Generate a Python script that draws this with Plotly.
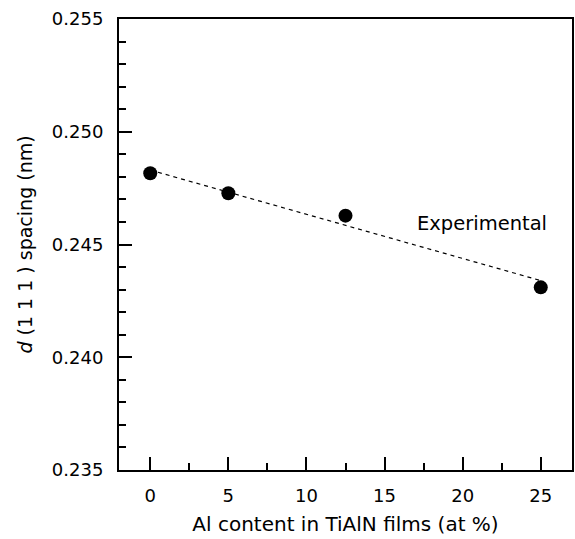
import plotly.graph_objects as go

# Data
al_content = [0, 5, 12.5, 25]
d_spacing = [0.24816, 0.24727, 0.24628, 0.24310]

# Dashed linear fit end points
fit_x = [0, 25]
fit_y = [0.2483, 0.2434]

x_ticks = [0, 5, 10, 15, 20, 25]
y_ticks = [0.235, 0.240, 0.245, 0.250, 0.255]
y_tick_labels = ["0.235", "0.240", "0.245", "0.250", "0.255"]

FONT = "DejaVu Sans"

fig = go.Figure()
fig.add_trace(go.Scatter(
    x=fit_x, y=fit_y, mode="lines",
    line=dict(color="black", width=1.2, dash="4px,4px"),
    showlegend=False, hoverinfo="skip",
))
fig.add_trace(go.Scatter(
    x=al_content, y=d_spacing, mode="markers",
    marker=dict(color="black", size=14),
    showlegend=False,
))

fig.add_annotation(
    x=21.25, y=0.24595, xref="x", yref="y",
    text="Experimental", showarrow=False,
    font=dict(family=FONT, size=19.5, color="black"),
)

axis_common = dict(
    showline=True, linecolor="black", linewidth=2, mirror=True,
    ticks="inside", ticklen=13, tickwidth=2, tickcolor="black",
    showgrid=False, zeroline=False,
    tickfont=dict(family=FONT, size=18, color="black"),
)

fig.update_xaxes(
    range=[-2, 27],
    tickvals=x_ticks,
    minor=dict(ticks="inside", ticklen=7, tickwidth=2, tickcolor="black", dtick=2.5, tick0=0, showgrid=False),
    title=dict(text="Al content in TiAlN films (at %)", font=dict(family=FONT, size=20, color="black"), standoff=12),
    ticklabelstandoff=8,
    **axis_common,
)
fig.update_yaxes(
    range=[0.235, 0.255],
    tickvals=y_ticks, ticktext=y_tick_labels,
    minor=dict(ticks="inside", ticklen=7, tickwidth=2, tickcolor="black", dtick=0.001, tick0=0.235, showgrid=False),
    title=dict(text="<i>d</i> (1 1 1 ) spacing (nm)", font=dict(family=FONT, size=19, color="black"), standoff=14),
    ticklabelstandoff=10,
    **axis_common,
)

fig.update_layout(
    width=575, height=539,
    margin=dict(l=119, r=1, t=19, b=69),
    paper_bgcolor="white", plot_bgcolor="white",
    font=dict(family=FONT, color="black"),
)

fig.write_html("out.html")
